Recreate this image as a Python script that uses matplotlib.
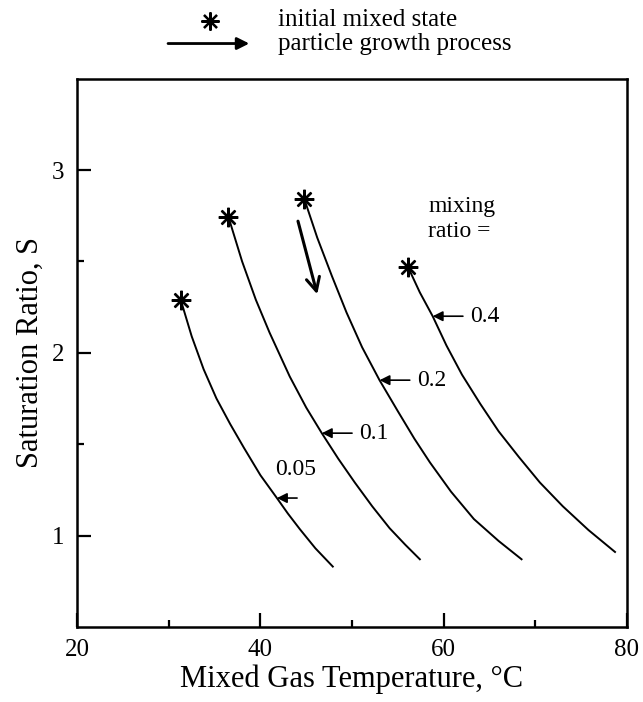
import matplotlib.pyplot as plt
from matplotlib.patches import FancyArrowPatch
from matplotlib.lines import Line2D
from matplotlib.ticker import FixedLocator

plt.rcParams['font.family'] = ['Liberation Serif', 'DejaVu Serif']

# read-off points per mixing ratio (T in degC, S)
t_005 = [31.3, 32.5, 33.8, 35.2, 36.7, 38.2, 40.0, 41.8, 43.0, 44.3, 46.0, 47.9]
s_005 = [2.29, 2.09, 1.91, 1.75, 1.61, 1.48, 1.33, 1.205, 1.12, 1.035, 0.93, 0.83]
t_01 = [36.5, 38.0, 39.5, 41.0, 43.2, 45.0, 46.7, 48.5, 50.3, 52.2, 54.1, 55.8, 57.4]
s_01 = [2.745, 2.50, 2.29, 2.11, 1.87, 1.70, 1.56, 1.42, 1.29, 1.16, 1.04, 0.95, 0.87]
t_02 = [44.8, 46.2, 47.8, 49.4, 51.1, 53.0, 55.0, 56.8, 58.5, 60.8, 63.3, 66.0, 68.5]
s_02 = [2.84, 2.63, 2.42, 2.22, 2.03, 1.85, 1.68, 1.53, 1.40, 1.24, 1.09, 0.97, 0.87]
t_04 = [56.1, 57.4, 58.8, 60.3, 62.0, 64.0, 66.0, 68.2, 70.5, 73.0, 75.8, 78.7]
s_04 = [2.47, 2.33, 2.20, 2.04, 1.88, 1.72, 1.57, 1.43, 1.29, 1.16, 1.03, 0.91]

curves = [(t_005, s_005), (t_01, s_01), (t_02, s_02), (t_04, s_04)]
ratio_labels = ['0.05', '0.1', '0.2', '0.4']
# where each label arrow points on its curve
label_tips = [(41.8, 1.205), (46.7, 1.56), (53.0, 1.85), (58.8, 2.20)]

fig = plt.figure(figsize=(6.43, 7.02), dpi=100)
ax = fig.add_axes([0.120, 0.107, 0.855, 0.781])

for t, s in curves:
    ax.plot(t, s, color='black', lw=1.4)
    ax.plot(t[0], s[0], marker=(8, 2, 0), color='black', ms=14, mew=1.7)

arrow_kw = dict(arrowstyle='-|>', color='black', lw=1.2,
                mutation_scale=15, shrinkA=0, shrinkB=0)
for (tx, ty), lab in zip(label_tips, ratio_labels):
    if lab == '0.05':
        ax.annotate('', xy=(tx, ty), xytext=(tx + 2.2, ty), arrowprops=arrow_kw)
        ax.text(41.6, 1.36, lab, fontsize=17, ha='left', va='center')
    else:
        ax.annotate('', xy=(tx, ty), xytext=(tx + 3.3, ty), arrowprops=arrow_kw)
        ax.text(tx + 4.1, ty, lab, fontsize=17, ha='left', va='center')

ax.text(58.3, 2.73, 'mixing\nratio =', fontsize=17, ha='left', va='center',
        linespacing=1.25)

# particle growth arrow
ax.annotate('', xy=(46.2, 2.32), xytext=(44.1, 2.72),
            arrowprops=dict(arrowstyle='->', color='black', lw=2.2,
                            mutation_scale=24, shrinkA=0, shrinkB=0))

ax.set_xlim(20, 80)
ax.set_ylim(0.5, 3.5)
ax.xaxis.set_major_locator(FixedLocator([20, 40, 60, 80]))
ax.xaxis.set_minor_locator(FixedLocator([30, 50, 70]))
ax.yaxis.set_major_locator(FixedLocator([1, 2, 3]))
ax.yaxis.set_minor_locator(FixedLocator([1.5, 2.5]))
ax.tick_params(which='both', direction='in', top=False, right=False,
               labelsize=18, width=1.6)
ax.tick_params(which='major', length=10, pad=9)
ax.tick_params(which='minor', length=5)
for sp in ax.spines.values():
    sp.set_linewidth(1.8)

ax.set_xlabel('Mixed Gas Temperature, °C', fontsize=22, labelpad=2)
ax.set_ylabel('Saturation Ratio, S', fontsize=22, labelpad=5)

# legend drawn in figure coords
fig.lines.append(Line2D([0.327], [0.970], marker=(8, 2, 0), color='black',
                        ms=13, mew=1.6, transform=fig.transFigure))
fig.text(0.432, 0.971, 'initial mixed state', fontsize=18, va='center')
fig.patches.append(FancyArrowPatch(
    (0.257, 0.938), (0.392, 0.938), transform=fig.transFigure,
    arrowstyle='-|>', mutation_scale=18, lw=2.0, color='black'))
fig.text(0.432, 0.937, 'particle growth process', fontsize=18, va='center')

fig.savefig('out.png', dpi=100)
